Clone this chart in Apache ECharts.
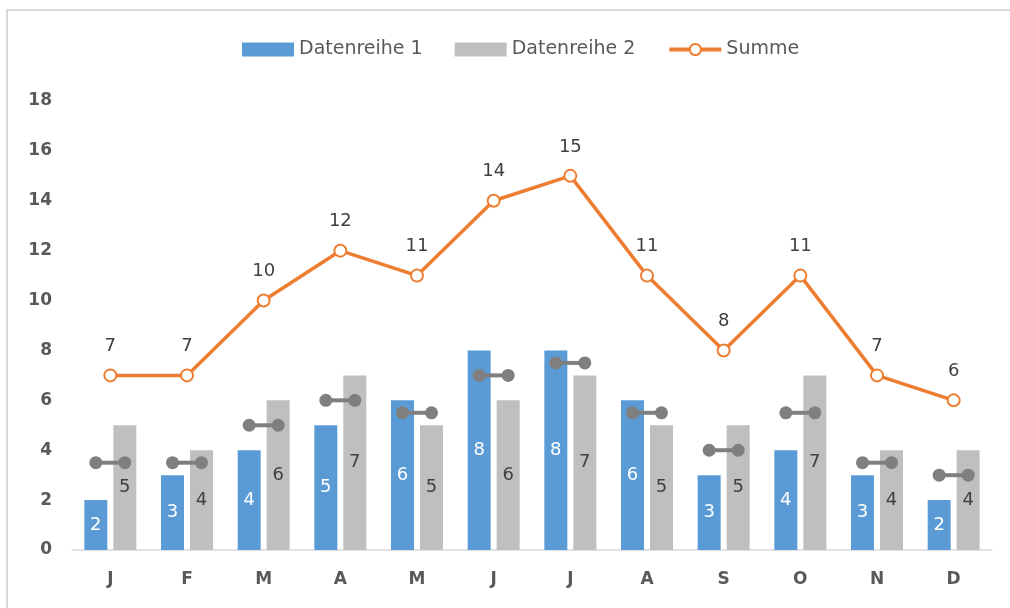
<!DOCTYPE html>
<html>
<head>
<meta charset="utf-8">
<script src="https://cdn.jsdelivr.net/npm/echarts@6/dist/echarts.min.js"></script>
<style>
    html, body { margin: 0; padding: 0; background: #fff; }
    #wrap { position: relative; width: 1010px; height: 608px; overflow: hidden; }
    #chart { width: 1010px; height: 608px; }
    #frame {
        position: absolute; left: 6px; top: 9px; width: 1100px; height: 700px;
        border: 2px solid #d9d9d9; pointer-events: none;
    }
</style>
</head>
<body>
<div id="wrap">
    <div id="chart"></div>
    <div id="frame"></div>
</div>
<script>
    // Werte
    var monate = ['J', 'F', 'M', 'A', 'M', 'J', 'J', 'A', 'S', 'O', 'N', 'D'];
    var reihe1 = [2, 3, 4, 5, 6, 8, 8, 6, 3, 4, 3, 2];
    var reihe2 = [5, 4, 6, 7, 5, 6, 7, 5, 5, 7, 4, 4];
    var summe = [7, 7, 10, 12, 11, 14, 15, 11, 8, 11, 7, 6];
    var mittel = [3.5, 3.5, 5, 6, 5.5, 7, 7.5, 5.5, 4, 5.5, 3.5, 3];
    var yTicks = [0, 2, 4, 6, 8, 10, 12, 14, 16, 18];

    var schrift = '"DejaVu Sans", "Open Sans", sans-serif';
    var balkenBreite = 23;
    var balkenAbstand = 6;

    var myChart = echarts.init(document.getElementById('chart'));

    var option = {
        animation: false,
        textStyle: { fontFamily: schrift },
        legend: {
            top: 35,
            left: 237,
            itemWidth: 52,
            itemHeight: 14,
            itemGap: 32,
            textStyle: { fontSize: 19, color: '#595959', fontFamily: schrift },
            data: [
                { name: 'Datenreihe 1', icon: 'rect' },
                { name: 'Datenreihe 2', icon: 'rect' },
                { name: 'Summe', lineStyle: { width: 4 } }
            ]
        },
        grid: { left: 72, right: 18, top: 101, bottom: 58 },
        xAxis: {
            type: 'category',
            data: monate,
            axisLine: { lineStyle: { color: '#d9d9d9', width: 1.5 } },
            axisTick: { show: false },
            axisLabel: { color: '#595959', fontWeight: 'bold', fontSize: 17, margin: 21, fontFamily: schrift }
        },
        yAxis: {
            type: 'value',
            min: yTicks[0],
            max: yTicks[yTicks.length - 1],
            interval: 2,
            splitLine: { show: false },
            axisLine: { show: false },
            axisTick: { show: false },
            axisLabel: { color: '#595959', fontWeight: 'bold', fontSize: 17, margin: 20, fontFamily: schrift }
        },
        series: [
            {
                name: 'Datenreihe 1',
                type: 'bar',
                data: reihe1,
                barWidth: balkenBreite,
                barGap: (balkenAbstand / balkenBreite * 100) + '%',
                itemStyle: { color: '#5b9bd5' },
                label: { show: true, position: 'inside', color: '#fff', fontSize: 18 }
            },
            {
                name: 'Datenreihe 2',
                type: 'bar',
                data: reihe2,
                barWidth: balkenBreite,
                itemStyle: { color: '#bfbfbf' },
                label: { show: true, position: 'inside', color: '#404040', fontSize: 18 }
            },
            {
                name: 'Mittel',
                type: 'custom',
                z: 5,
                data: mittel.map(function (v, i) { return [i, v]; }),
                renderItem: function (params, api) {
                    var p = api.coord([api.value(0), api.value(1)]);
                    var off = (balkenBreite + balkenAbstand) / 2;
                    var farbe = '#7f7f7f';
                    return {
                        type: 'group',
                        children: [
                            { type: 'line', shape: { x1: p[0] - off, y1: p[1], x2: p[0] + off, y2: p[1] },
                              style: { stroke: farbe, lineWidth: 4 } },
                            { type: 'circle', shape: { cx: p[0] - off, cy: p[1], r: 6.5 }, style: { fill: farbe } },
                            { type: 'circle', shape: { cx: p[0] + off, cy: p[1], r: 6.5 }, style: { fill: farbe } }
                        ]
                    };
                }
            },
            {
                name: 'Summe',
                type: 'line',
                z: 10,
                data: summe,
                symbol: 'circle',
                symbolSize: 12,
                lineStyle: { color: '#ed7d31', width: 3.5 },
                itemStyle: { color: '#fff', borderColor: '#ed7d31', borderWidth: 2 },
                label: { show: true, position: 'top', distance: 13, color: '#404040', fontSize: 18 }
            }
        ]
    };

    myChart.setOption(option);
</script>
</body>
</html>
